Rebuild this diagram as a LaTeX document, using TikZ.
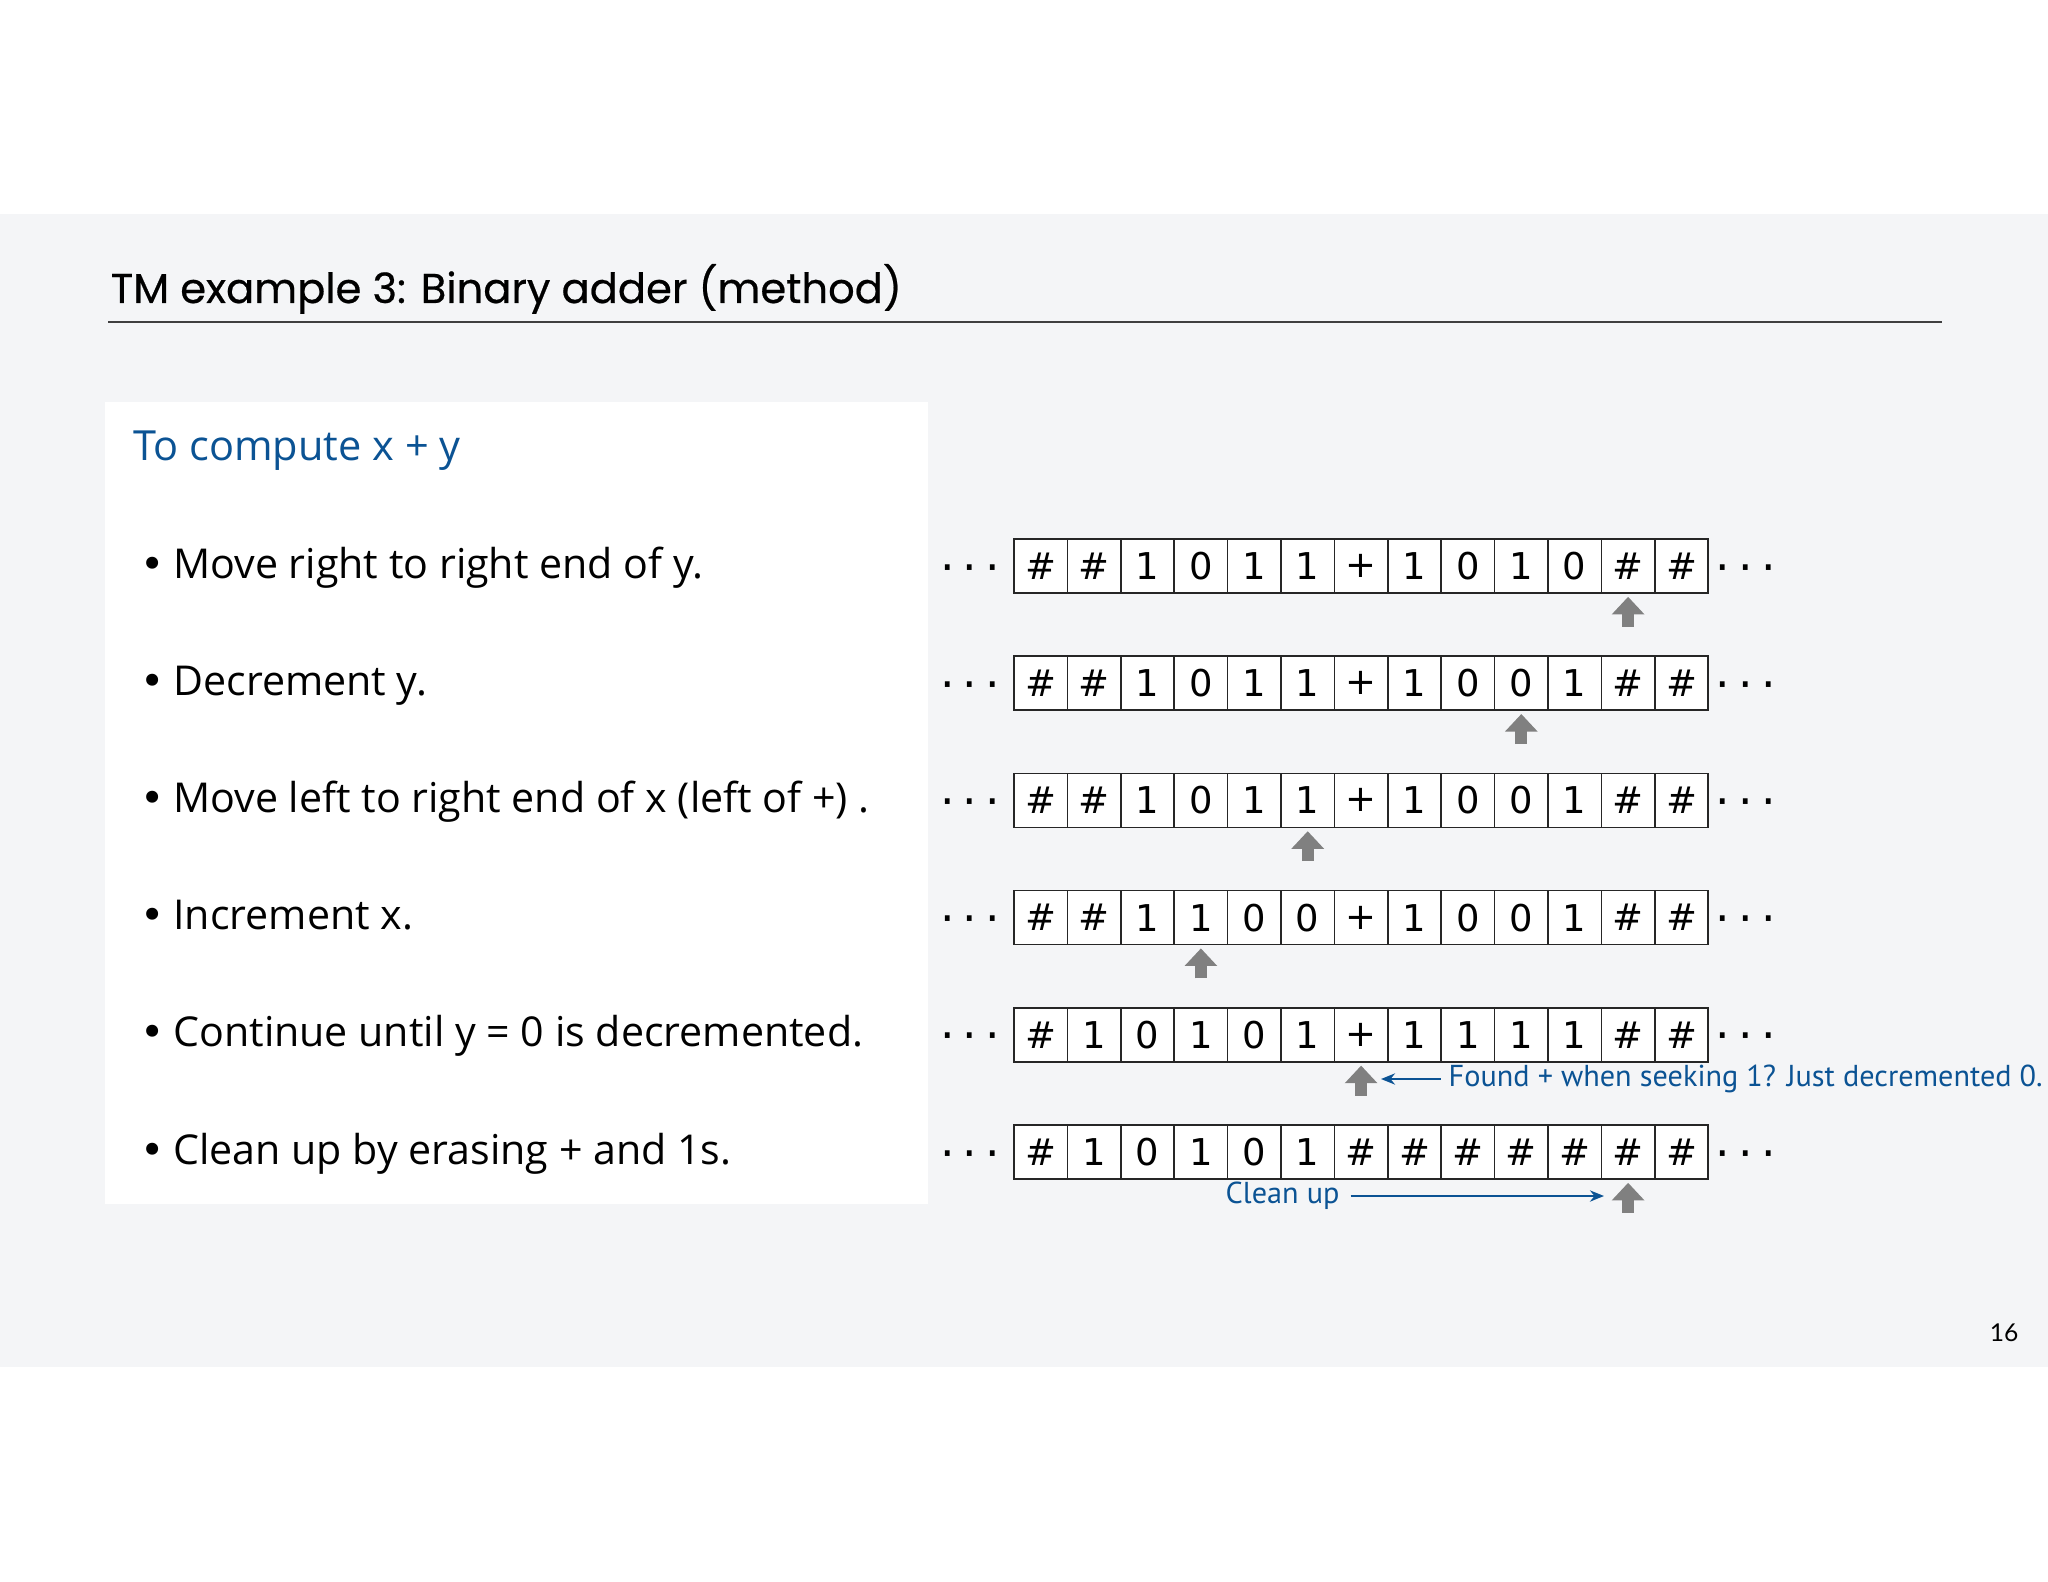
\documentclass[tikz,border=0pt]{standalone}
\usepackage{fontspec}
\setmainfont{Open Sans}
\newfontfamily\titlefont[FakeBold=0.5]{Poppins}
\newfontfamily\tapefont{DejaVu Sans}
\newfontfamily\notefont{PT Sans}
\newfontfamily\numfont{Lato}
\usetikzlibrary{arrows.meta, positioning, calc}
\definecolor{slidebg}{HTML}{F4F5F7}
\definecolor{noteblue}{HTML}{0B5394}
\definecolor{headgray}{HTML}{808080}
\tikzset{
    cell/.style={rectangle, draw=black!85, fill=white, line width=0.45pt, minimum width=0.534cm, minimum height=0.54cm, inner sep=0pt, font=\tapefont\fontsize{10.5}{12}\selectfont},
    dots/.style={inner sep=0pt, yshift=-2.2pt, font=\tapefont\fontsize{13}{14}\selectfont},
    bulletline/.style={anchor=base west, inner sep=0pt, font=\fontsize{11.7}{14}\selectfont},
    note/.style={text=noteblue, inner sep=0pt, font=\notefont\fontsize{8.6}{10}\selectfont},
    notearrow/.style={draw=noteblue, line width=0.55pt, -{Stealth[length=4pt, width=3.2pt]}},
    headarrow/.style={draw=headgray, line width=3.4pt, -{Triangle[width=9pt, length=5pt]}}
}

\begin{document}
\begin{tikzpicture}[x=0.01cm, y=-0.01cm]
        \useasboundingbox (0,0) rectangle (2048,1582);
        \fill[white] (0,0) rectangle (2048,1582);
        \fill[slidebg] (0,214) rectangle (2048,1367);

        % Title
        \node (title) [anchor=base west, inner sep=0pt, font=\titlefont\fontsize{11.85}{14}\selectfont] at (110,303) {TM example 3: Binary adder (method)};
        \draw[line width=0.5pt, black!75] (108,322) -- (1942,322);
        \node (page) [anchor=base east, inner sep=0pt, font=\numfont\fontsize{7}{8}\selectfont] at (2019,1341) {16};

        % Method
        \fill[white] (105,402) rectangle (928,1204);
        \node (head) [anchor=base west, inner sep=0pt, text=noteblue, font=\fontsize{11.8}{14}\selectfont] at (133,460) {To compute x + y};
        \foreach \r/\txt in {1/Move right to right end of y.,
                             2/Decrement y.,
                             3/Move left to right end of x (left of +) .,
                             4/Increment x.,
                             5/Continue until y = 0 is decremented.,
                             6/Clean up by erasing + and 1s.}
            \node (b\r) [bulletline] at (140, {578+(\r-1)*117.2}) {{\tapefont\textbullet}\hspace{2.4pt}\txt};

        % Tapes
        \foreach \r/\syms/\h in {1/{\#,\#,1,0,1,1,+,1,0,1,0,\#,\#}/12,
                                 2/{\#,\#,1,0,1,1,+,1,0,0,1,\#,\#}/10,
                                 3/{\#,\#,1,0,1,1,+,1,0,0,1,\#,\#}/6,
                                 4/{\#,\#,1,1,0,0,+,1,0,0,1,\#,\#}/4,
                                 5/{\#,1,0,1,0,1,+,1,1,1,1,\#,\#}/7,
                                 6/{\#,1,0,1,0,1,\#,\#,\#,\#,\#,\#,\#}/12}
        {
            \foreach \s [count=\i] in \syms
                \node (c\r-\i) [cell] at ({1014+(\i-0.5)*53.4}, {566+(\r-1)*117.2}) {\s};
            \node (l\r) [dots, left=0.12cm of c\r-1] {·\hspace{2.4pt}·\hspace{2.4pt}·};
            \node (e\r) [dots, right=0.06cm of c\r-13] {·\hspace{2.4pt}·\hspace{2.4pt}·};
            \draw[headarrow] ($(c\r-\h.south)+(0,33)$) -- ($(c\r-\h.south)+(0,3)$);
        }

        % Notes
        \node (found) [note, anchor=west] at (1448,1079) {Found + when seeking 1? Just decremented 0.};
        \coordinate (foundtip) at (1381,1079);
        \draw[notearrow] ([xshift=-2pt]found.west) -- (foundtip);
        \node (clean) [note, anchor=west] at (1225,1196) {Clean up};
        \coordinate (cleantip) at (1604,1196);
        \draw[notearrow] ([xshift=3pt]clean.east) -- (cleantip);
    \end{tikzpicture}
\end{document}
